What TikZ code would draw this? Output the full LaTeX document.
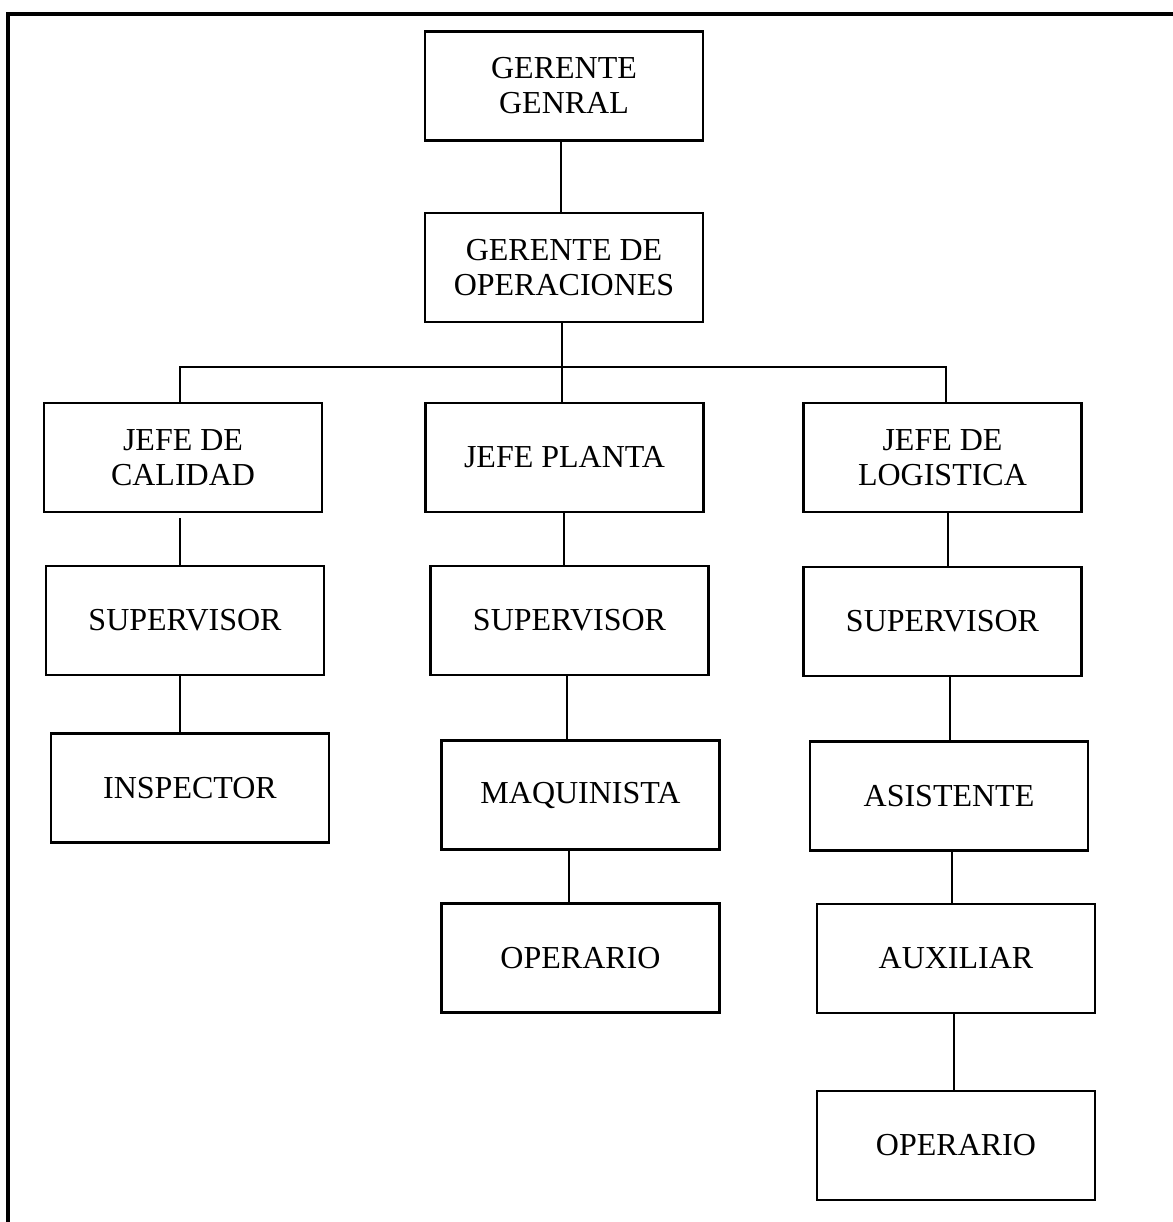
\documentclass[tikz,border=0pt]{standalone}
\usepackage{fontspec}
\setmainfont{Liberation Serif}
\begin{document}
\begin{tikzpicture}[x=0.75pt,y=-0.75pt,
  box/.style={draw, line width=2pt, minimum width=208.5pt, minimum height=81.75pt,
    inner sep=0pt, align=center, font=\fontsize{24}{26.25}\selectfont},
  thinlink/.style={line width=0.9pt},
  thicklink/.style={line width=1.9pt},
  barline/.style={line width=1.8pt},
  frameline/.style={line width=2.3pt}]
\useasboundingbox (0,0) rectangle (1173,1222);
\begin{scope}
\clip (0,0) rectangle (1173,1222);
% outer frame (open to the right and bottom)
\draw[frameline] (8,1240) -- (8,14) -- (1200,14);
\end{scope}

% boxes
\node[box] (gg)   at (564,86)     {GERENTE\\GENRAL};
\node[box] (go)   at (564,267.5)  {GERENTE DE\\OPERACIONES};
\node[box] (jdc)  at (183,457.5)  {JEFE DE\\CALIDAD};
\node[box] (jp)   at (564.5,457.5){JEFE PLANTA};
\node[box] (jdl)  at (942.5,457.5){JEFE DE\\LOGISTICA};
\node[box] (sup1) at (185,620.5)  {SUPERVISOR};
\node[box] (sup2) at (569.5,620.5){SUPERVISOR};
\node[box] (sup3) at (942.5,621.5){SUPERVISOR};
\node[box] (insp) at (190,788)    {INSPECTOR};
\node[box] (maq)  at (580.5,795)  {MAQUINISTA};
\node[box] (op2)  at (580.5,958)  {OPERARIO};
\node[box] (asi)  at (949,796)    {ASISTENTE};
\node[box] (aux)  at (956,958.5)  {AUXILIAR};
\node[box] (op3)  at (956,1145.5) {OPERARIO};

% x positions of the vertical connectors
\coordinate (xa) at (561,0);
\coordinate (xb) at (562,0);
\coordinate (xc) at (564,0);
\coordinate (xd) at (567,0);
\coordinate (xe) at (569,0);
\coordinate (xl) at (180,0);
\coordinate (xr1) at (948,0);
\coordinate (xr2) at (950,0);
\coordinate (xr3) at (952,0);
\coordinate (xr4) at (954,0);
\coordinate (barL) at (180,367);
\coordinate (barR) at (946,367);

% top of the chart
\draw[thinlink] (gg.south -| xa) -- (go.north -| xa);
\draw[thinlink] (go.south -| xb) -- (jp.north -| xb);
\draw[barline] (jdc.north -| barL) |- (barR) -- (jdl.north -| barR);

% quality branch
\draw[thicklink, shorten <=3.75pt] (jdc.south -| xl) -- (sup1.north -| xl);
\draw[thicklink] (sup1.south -| xl) -- (insp.north -| xl);

% plant branch
\draw[thinlink] (jp.south -| xc) -- (sup2.north -| xc);
\draw[thinlink] (sup2.south -| xd) -- (maq.north -| xd);
\draw[thinlink] (maq.south -| xe) -- (op2.north -| xe);

% logistics branch
\draw[thicklink] (jdl.south -| xr1) -- (sup3.north -| xr1);
\draw[thicklink] (sup3.south -| xr2) -- (asi.north -| xr2);
\draw[thicklink] (asi.south -| xr3) -- (aux.north -| xr3);
\draw[thicklink] (aux.south -| xr4) -- (op3.north -| xr4);
\end{tikzpicture}
\end{document}
